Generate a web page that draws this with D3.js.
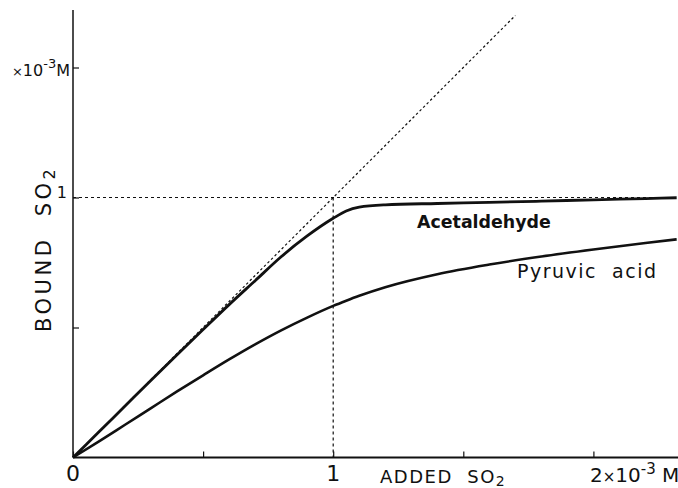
<!DOCTYPE html>
<html>
<head>
<meta charset="utf-8">
<script src="https://cdn.jsdelivr.net/npm/d3@7"></script>
<style>
  body { margin: 0; background: #fff; }
  text { font-family: "DejaVu Sans", "Liberation Sans", Arial, sans-serif; fill: #111; white-space: pre; }
</style>
</head>
<body>
<svg id="chart" width="678" height="488"></svg>
<script>
// added SO2 (x10^-3 M)
var added = [0, 0.1, 0.2, 0.3, 0.4, 0.5, 0.6, 0.7, 0.8, 0.9, 1.0, 1.05, 1.1, 1.2, 1.4, 1.6, 1.8, 2.0, 2.2, 2.32];
// bound SO2 (x10^-3 M)
var acetaldehyde = [0, 0.099, 0.198, 0.297, 0.395, 0.492, 0.588, 0.68, 0.772, 0.852, 0.92, 0.948, 0.963, 0.972, 0.977, 0.981, 0.986, 0.991, 0.996, 0.999];
var pyruvic = [0, 0.062, 0.126, 0.19, 0.254, 0.316, 0.377, 0.435, 0.489, 0.538, 0.583, 0.603, 0.622, 0.655, 0.705, 0.742, 0.773, 0.80, 0.825, 0.839];
var xTicks = [0, 0.5, 1, 1.5, 2];
var yTicks = [0.5, 1, 1.5];

var svg = d3.select("#chart");

var x = d3.scaleLinear().domain([0, 1]).range([73, 333.2]);
var y = d3.scaleLinear().domain([0, 1]).range([457.5, 197.5]);

var ink = "#111";

// reference dotted lines
svg.append("line")
    .attr("x1", x(0)).attr("y1", y(0))
    .attr("x2", x(1.70)).attr("y2", y(1.70))
    .attr("stroke", ink).attr("stroke-width", 1.2)
    .attr("stroke-dasharray", "2.5,2.5");
svg.append("line")
    .attr("x1", x(0)).attr("y1", y(1))
    .attr("x2", 678).attr("y2", y(1))
    .attr("stroke", ink).attr("stroke-width", 1.2)
    .attr("stroke-dasharray", "3,3");
svg.append("line")
    .attr("x1", x(1)).attr("y1", y(1))
    .attr("x2", x(1)).attr("y2", y(0))
    .attr("stroke", ink).attr("stroke-width", 1.2)
    .attr("stroke-dasharray", "3,3");

// axes
var xAxis = d3.axisBottom(x).tickValues(xTicks).tickSizeInner(-6).tickSizeOuter(0).tickFormat("");
var gx = svg.append("g").attr("transform", "translate(0," + y(0) + ")").call(xAxis);
gx.select(".domain").attr("d", "M" + x(0) + ",0H678").attr("stroke", ink).attr("stroke-width", 2.2);
gx.selectAll(".tick line").attr("stroke", ink).attr("stroke-width", 1.2);

var yAxis = d3.axisLeft(y).tickValues(yTicks).tickSizeInner(-6).tickSizeOuter(0).tickFormat("");
var gy = svg.append("g").attr("transform", "translate(" + x(0) + ",0)").call(yAxis);
gy.select(".domain").attr("d", "M0," + y(0) + "V10").attr("stroke", ink).attr("stroke-width", 1.5);
gy.selectAll(".tick line").attr("stroke", ink).attr("stroke-width", 1.2);

// curves
var line = d3.line()
    .x(function(d, i) { return x(added[i]); })
    .y(function(d) { return y(d); })
    .curve(d3.curveMonotoneX);

svg.append("path").datum(acetaldehyde)
    .attr("d", line).attr("fill", "none")
    .attr("stroke", ink).attr("stroke-width", 2.8);
svg.append("path").datum(pyruvic)
    .attr("d", line).attr("fill", "none")
    .attr("stroke", ink).attr("stroke-width", 2.6);

// x labels
svg.append("text").attr("x", x(0)).attr("y", 481).attr("text-anchor", "middle")
    .attr("font-size", 22).text("0");
svg.append("text").attr("x", x(1)).attr("y", 481).attr("text-anchor", "middle")
    .attr("font-size", 22).text("1");
var t2 = svg.append("text").attr("x", 590).attr("y", 482).attr("font-size", 20);
t2.append("tspan").text("2");
t2.append("tspan").attr("font-size", 15).text("\u00d7");
t2.append("tspan").text("10");
t2.append("tspan").attr("dy", -8).attr("font-size", 15).text("-3");
t2.append("tspan").attr("dy", 8).text(" M");

var xl = svg.append("text").attr("x", 380).attr("y", 483).attr("font-size", 18)
    .attr("letter-spacing", 1.5);
xl.append("tspan").text("ADDED  SO");
xl.append("tspan").attr("dy", 3).attr("font-size", 14).text("2");

// y labels
svg.append("text").attr("x", 67).attr("y", y(1)).attr("text-anchor", "end")
    .attr("font-size", 16).text("1");
var yt = svg.append("text").attr("x", 70).attr("y", 76).attr("text-anchor", "end").attr("font-size", 16);
yt.append("tspan").attr("font-size", 13).text("\u00d7");
yt.append("tspan").text("10");
yt.append("tspan").attr("dy", -8).attr("font-size", 13).text("-3");
yt.append("tspan").attr("dy", 8).text("M");

var yl = svg.append("text")
    .attr("transform", "translate(51,332) rotate(-90)")
    .attr("font-size", 21).attr("letter-spacing", 3.5);
yl.append("tspan").text("BOUND  SO");
yl.append("tspan").attr("dy", 4).attr("font-size", 16).text("2");

// curve labels
svg.append("text").attr("x", 417).attr("y", 228).attr("font-size", 17.4)
    .attr("font-weight", "bold").text("Acetaldehyde");
svg.append("text").attr("x", 517).attr("y", 278).attr("font-size", 19)
    .attr("letter-spacing", 1.5).text("Pyruvic  acid");
</script>
</body>
</html>
